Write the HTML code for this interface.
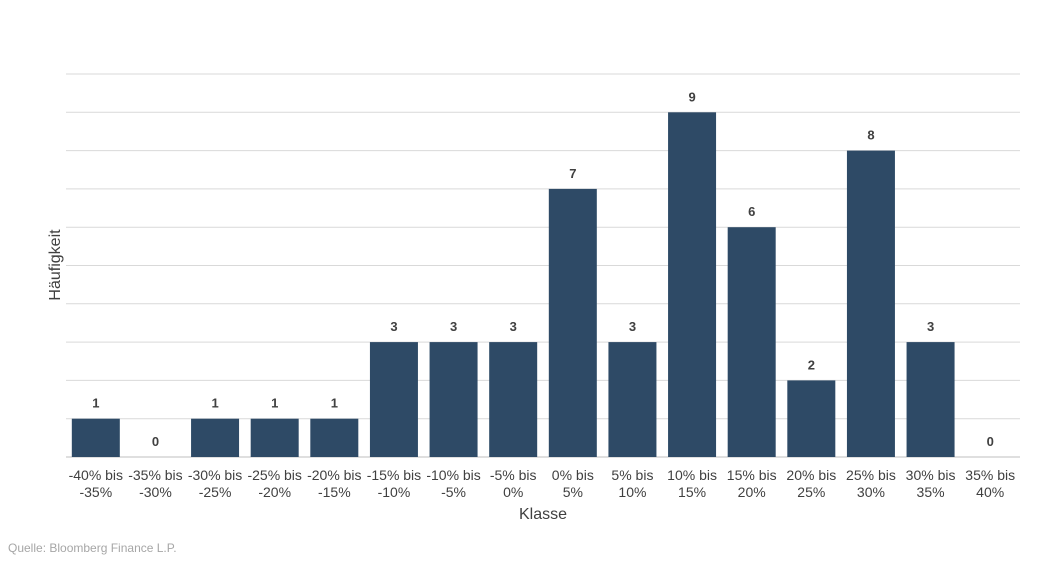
<!DOCTYPE html>
<html><head><meta charset="utf-8"><style>
body{margin:0;background:#fff;width:1058px;height:562px;overflow:hidden;font-family:"Liberation Sans",Arial,sans-serif}
</style></head><body>
<svg width="1058" height="562" id="chart" font-family="Liberation Sans, Arial, sans-serif">
<g id="grid"></g>
<g id="bars"></g>
<g id="vals"></g>
<g id="xlabels"></g>
<text x="543" y="519" text-anchor="middle" font-size="16" fill="#404040">Klasse</text>
<text transform="translate(60,265) rotate(-90)" text-anchor="middle" font-size="16" fill="#404040">Häufigkeit</text>
<text x="8" y="552" font-size="12" fill="#a6a6a6">Quelle: Bloomberg Finance L.P.</text>
</svg>
<script>
const categoriesTop=["-40% bis","-35% bis","-30% bis","-25% bis","-20% bis","-15% bis","-10% bis","-5% bis","0% bis","5% bis","10% bis","15% bis","20% bis","25% bis","30% bis","35% bis"];
const categoriesBottom=["-35%","-30%","-25%","-20%","-15%","-10%","-5%","0%","5%","10%","15%","20%","25%","30%","35%","40%"];
const counts=[1,0,1,1,1,3,3,3,7,3,9,6,2,8,3,0];
const yTicks=[0,1,2,3,4,5,6,7,8,9,10];
const NS="http://www.w3.org/2000/svg";
const x0=66,x1=1020,yBase=457,yTop=74,yMax=10;
const step=(x1-x0)/counts.length;
const xC=i=>x0+step*(i+0.5);
const yS=v=>yBase-(yBase-yTop)*v/yMax;
function mk(tag,attrs,parent,txt){const e=document.createElementNS(NS,tag);for(const k in attrs)e.setAttribute(k,attrs[k]);if(txt!==undefined)e.textContent=txt;document.getElementById(parent).appendChild(e);return e;}
yTicks.forEach(t=>{
 const l=mk('line',{x1:x0,x2:x1,y1:yS(t),y2:yS(t),stroke:t===0?'#bfbfbf':'#d9d9d9','stroke-width':1},'grid');
 
 
});
counts.forEach((v,i)=>{
 const bw=48;
 const r=mk('rect',{x:xC(i)-bw/2,y:yS(v),width:bw,height:yBase-yS(v),fill:'#2e4a66'},'bars');
 
 
 const t=mk('text',{x:xC(i),y:yS(v)-11,'text-anchor':'middle','font-size':13,'font-weight':'bold',fill:'#404040'},'vals',String(v));
 
 
 const a=mk('text',{x:xC(i),y:480,'text-anchor':'middle','font-size':14,fill:'#404040'},'xlabels',categoriesTop[i]);
 
 
 const b=mk('text',{x:xC(i),y:497,'text-anchor':'middle','font-size':14,fill:'#404040'},'xlabels',categoriesBottom[i]);
 
 
});
</script>
</body></html>
